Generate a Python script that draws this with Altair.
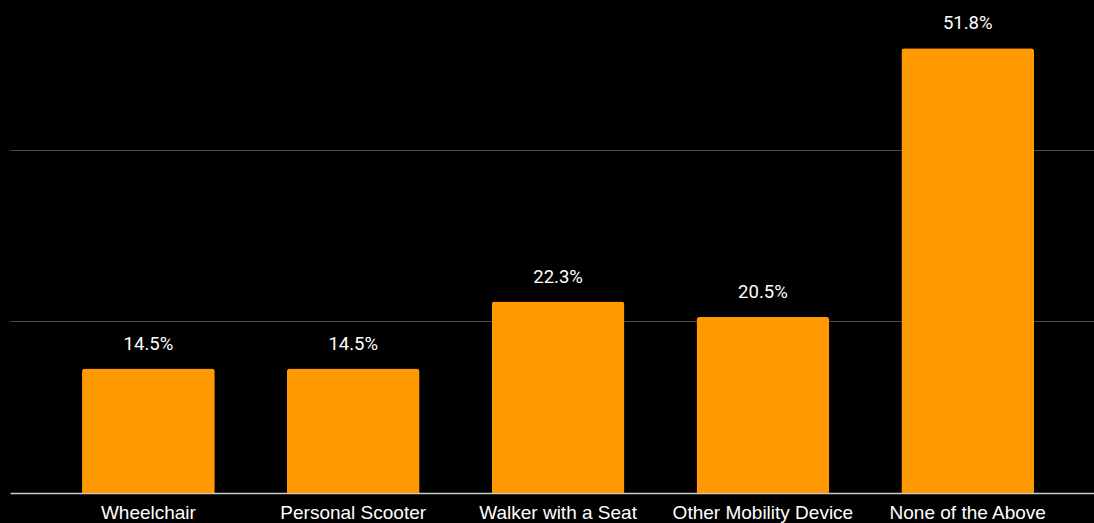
import altair as alt
import pandas as pd

categories = ["Wheelchair", "Personal Scooter", "Walker with a Seat", "Other Mobility Device", "None of the Above"]
values = [14.5, 14.5, 22.3, 20.5, 51.8]
labels = ["14.5%", "14.5%", "22.3%", "20.5%", "51.8%"]

df = pd.DataFrame({"category": categories, "value": values, "label": labels})

x = alt.X(
    "category:N",
    sort=categories,
    title=None,
    scale=alt.Scale(paddingInner=0.352, paddingOuter=0.322, align=0.546),
    axis=alt.Axis(
        labelAngle=0,
        labelFont="Liberation Sans",
        labelFontSize=19,
        labelColor="#ffffff",
        labelBaseline="alphabetic",
        labelPadding=25,
        labelLimit=0,
        ticks=False,
        tickSize=0,
        domain=True,
        domainColor="#cccccc",
        domainWidth=1.5,
        grid=False,
    ),
)
y = alt.Y(
    "value:Q",
    title=None,
    scale=alt.Scale(domain=[0, 57.42], nice=False, zero=True),
    axis=alt.Axis(
        values=[20, 40],
        labels=False,
        ticks=False,
        domain=False,
        grid=True,
        gridColor="#4a4a4a",
        gridWidth=1,
    ),
)

bars = alt.Chart(df).mark_bar(
    color="#FF9900", cornerRadiusTopLeft=3, cornerRadiusTopRight=3
).encode(x=x, y=y)

text = alt.Chart(df).mark_text(
    baseline="alphabetic", dy=-19, font="Roboto", fontSize=18.5, color="#ffffff"
).encode(x=alt.X("category:N", sort=categories), y="value:Q", text="label:N")

chart = (
    alt.layer(bars, text)
    .properties(width=1084, height=493, background="#000000",
                padding={"left": 10, "top": 0, "right": 0, "bottom": 30},
                autosize=alt.AutoSizeParams(type="none"))
    .configure_view(stroke=None)
)

chart.save("out.html", embed_options={"renderer": "svg", "actions": False})
